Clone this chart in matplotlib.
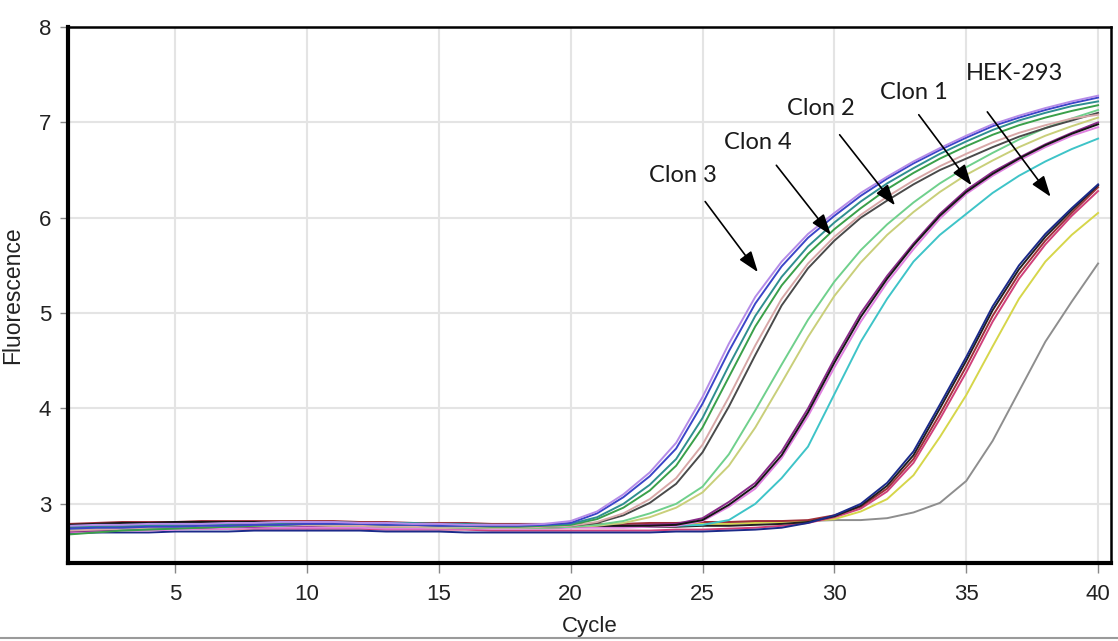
import matplotlib
matplotlib.use("Agg")
import matplotlib.pyplot as plt
from matplotlib.lines import Line2D

cycles = list(range(1, 41))

# Fluorescence per cycle (cycles 1..40) for each amplification curve
violet = [2.77,2.78,2.78,2.79,2.79,2.79,2.80,2.80,2.81,2.81,2.81,2.80,2.80,2.79,2.79,2.78,2.78,2.78,2.79,2.82,
          2.92,3.10,3.33,3.64,4.12,4.68,5.17,5.54,5.83,6.05,6.26,6.43,6.59,6.73,6.86,6.98,7.07,7.15,7.22,7.28]
blue = [2.74,2.75,2.75,2.76,2.76,2.77,2.77,2.78,2.78,2.79,2.79,2.79,2.78,2.78,2.77,2.77,2.77,2.77,2.78,2.80,
        2.90,3.07,3.29,3.58,4.05,4.60,5.10,5.49,5.79,6.02,6.23,6.41,6.57,6.71,6.84,6.96,7.05,7.13,7.20,7.26]
teal = [2.76,2.76,2.77,2.77,2.78,2.78,2.79,2.80,2.80,2.81,2.81,2.80,2.80,2.80,2.79,2.79,2.78,2.78,2.78,2.79,
        2.86,3.00,3.20,3.47,3.90,4.45,4.97,5.38,5.70,5.95,6.17,6.36,6.52,6.67,6.80,6.92,7.02,7.10,7.17,7.22]
green = [2.68,2.70,2.72,2.73,2.74,2.75,2.76,2.77,2.78,2.79,2.79,2.79,2.78,2.78,2.77,2.77,2.76,2.76,2.77,2.78,
         2.84,2.96,3.14,3.40,3.80,4.33,4.86,5.29,5.62,5.88,6.10,6.30,6.47,6.62,6.75,6.87,6.97,7.05,7.12,7.18]
pinktan = [2.72,2.73,2.74,2.75,2.76,2.76,2.77,2.77,2.78,2.78,2.78,2.77,2.77,2.76,2.76,2.76,2.75,2.75,2.76,2.77,
           2.81,2.90,3.05,3.27,3.62,4.12,4.66,5.15,5.52,5.80,6.03,6.22,6.39,6.54,6.67,6.79,6.89,6.97,7.04,7.08]
darkgray = [2.75,2.76,2.76,2.77,2.77,2.78,2.78,2.79,2.79,2.80,2.80,2.79,2.79,2.78,2.78,2.77,2.77,2.76,2.76,2.77,
            2.80,2.88,3.01,3.21,3.54,4.02,4.56,5.08,5.47,5.76,6.00,6.18,6.35,6.50,6.62,6.74,6.85,6.94,7.02,7.10]
lightgreen = [2.73,2.74,2.74,2.75,2.75,2.76,2.76,2.77,2.77,2.78,2.78,2.77,2.77,2.76,2.76,2.75,2.75,2.75,2.75,2.76,
              2.78,2.82,2.90,3.00,3.18,3.52,3.98,4.46,4.93,5.33,5.66,5.93,6.16,6.36,6.53,6.68,6.82,6.94,7.04,7.13]
yellowgreen = [2.74,2.75,2.75,2.76,2.76,2.76,2.77,2.77,2.78,2.78,2.77,2.77,2.76,2.76,2.75,2.75,2.75,2.75,2.75,2.76,
               2.77,2.80,2.86,2.96,3.12,3.40,3.80,4.27,4.75,5.18,5.53,5.82,6.06,6.27,6.45,6.60,6.74,6.86,6.96,7.05]
purple_c1 = [2.71,2.72,2.73,2.74,2.75,2.75,2.76,2.76,2.77,2.77,2.77,2.77,2.76,2.76,2.76,2.75,2.75,2.75,2.75,2.76,
             2.77,2.77,2.78,2.79,2.85,3.02,3.22,3.55,4.00,4.52,5.00,5.39,5.73,6.04,6.29,6.48,6.63,6.77,6.89,7.00]
black_c1 = [2.78,2.79,2.80,2.80,2.81,2.81,2.81,2.81,2.80,2.80,2.80,2.79,2.79,2.78,2.78,2.78,2.77,2.77,2.77,2.77,
            2.77,2.77,2.77,2.78,2.83,2.99,3.19,3.51,3.96,4.48,4.96,5.36,5.71,6.02,6.27,6.46,6.62,6.76,6.88,6.98]
magenta_c1 = [2.70,2.71,2.72,2.72,2.73,2.74,2.74,2.75,2.75,2.75,2.75,2.75,2.74,2.74,2.74,2.74,2.74,2.74,2.74,2.75,
              2.75,2.75,2.76,2.77,2.82,2.97,3.16,3.48,3.92,4.43,4.91,5.32,5.67,5.99,6.25,6.44,6.60,6.74,6.86,6.95]
cyan = [2.75,2.76,2.76,2.77,2.77,2.78,2.78,2.78,2.79,2.79,2.79,2.78,2.78,2.77,2.77,2.77,2.76,2.76,2.76,2.76,
        2.76,2.76,2.77,2.77,2.78,2.83,3.00,3.27,3.60,4.15,4.70,5.15,5.54,5.82,6.04,6.26,6.44,6.59,6.72,6.83]
navy_hek = [2.69,2.70,2.70,2.70,2.71,2.71,2.71,2.72,2.72,2.72,2.72,2.72,2.71,2.71,2.71,2.70,2.70,2.70,2.70,2.70,
            2.70,2.70,2.70,2.71,2.71,2.72,2.73,2.75,2.80,2.88,3.00,3.22,3.55,4.04,4.54,5.07,5.50,5.83,6.10,6.35]
darkred_hek = [2.79,2.80,2.81,2.81,2.81,2.82,2.82,2.82,2.82,2.82,2.82,2.81,2.81,2.80,2.80,2.80,2.79,2.79,2.79,2.79,
               2.79,2.79,2.80,2.80,2.81,2.81,2.82,2.82,2.83,2.88,2.97,3.16,3.47,3.94,4.44,4.97,5.41,5.76,6.05,6.32]
black_hek = [2.74,2.75,2.76,2.77,2.78,2.78,2.79,2.79,2.79,2.79,2.79,2.78,2.78,2.78,2.77,2.77,2.76,2.76,2.76,2.76,
             2.76,2.76,2.76,2.76,2.77,2.77,2.78,2.79,2.81,2.87,2.98,3.19,3.51,4.00,4.50,5.03,5.46,5.80,6.08,6.34]
magenta_hek = [2.72,2.72,2.73,2.73,2.74,2.74,2.74,2.74,2.74,2.74,2.74,2.74,2.73,2.73,2.73,2.73,2.72,2.72,2.72,2.72,
               2.72,2.72,2.72,2.73,2.73,2.74,2.75,2.77,2.80,2.86,2.95,3.13,3.43,3.89,4.38,4.91,5.36,5.72,6.02,6.28]
yellow_hek = [2.76,2.76,2.77,2.77,2.78,2.78,2.78,2.79,2.79,2.79,2.79,2.79,2.78,2.78,2.78,2.77,2.77,2.77,2.77,2.77,
              2.77,2.77,2.78,2.78,2.79,2.79,2.80,2.81,2.82,2.84,2.92,3.05,3.30,3.70,4.14,4.65,5.15,5.54,5.82,6.05]
gray_late = [2.73,2.74,2.75,2.76,2.77,2.78,2.79,2.80,2.80,2.81,2.81,2.80,2.80,2.80,2.79,2.79,2.78,2.78,2.78,2.78,
             2.78,2.79,2.79,2.80,2.80,2.81,2.81,2.82,2.82,2.83,2.83,2.85,2.91,3.01,3.24,3.66,4.18,4.70,5.12,5.52]

series = [
    (gray_late, '#8e8e8e'), (yellow_hek, '#d6d64a'), (magenta_hek, '#d0407a'),
    (darkred_hek, '#a0303a'), (black_hek, '#202020'), (navy_hek, '#1b2a8a'),
    (cyan, '#3ec4c8'), (magenta_c1, '#e080e0'), (purple_c1, '#8a2a8a'), (black_c1, '#151515'),
    (yellowgreen, '#c9cf7a'), (lightgreen, '#6fd08c'), (darkgray, '#4a4a4a'),
    (pinktan, '#d8a8a8'), (green, '#3aa04a'), (teal, '#2f8f8f'),
    (blue, '#3b45c8'), (violet, '#b58be8'),
]

labels = ['Clon 3', 'Clon 4', 'Clon 2', 'Clon 1', 'HEK-293']
label_xy = [(24.26, 6.44), (27.1, 6.79), (29.5, 7.15), (33.0, 7.31), (36.85, 7.51)]
arrow_start = [(25.1, 6.17), (27.8, 6.55), (30.2, 6.87), (33.2, 7.08), (35.8, 7.11)]
arrow_tip = [(27.1, 5.43), (29.87, 5.82), (32.3, 6.13), (35.2, 6.34), (38.2, 6.22)]

xticks = [5, 10, 15, 20, 25, 30, 35, 40]
yticks = [3, 4, 5, 6, 7, 8]

W, H = 1118, 641
fig = plt.figure(figsize=(W / 100, H / 100), dpi=100)
ax = fig.add_axes([68 / W, (H - 563) / H, (1111 - 68) / W, (563 - 27) / H])

for vals, col in series:
    ax.plot(cycles, vals, color=col, lw=1.4, zorder=3, solid_joinstyle='round')

ax.set_xlim(0.94, 40.49)
ax.set_ylim(2.38, 8.0)
ax.set_xticks(xticks)
ax.set_yticks(yticks)
ax.grid(True, color='#e4e4e4', lw=1.5, zorder=0)
ax.set_axisbelow(True)

for side in ['left', 'bottom']:
    ax.spines[side].set_linewidth(3.0)
for side in ['top', 'right']:
    ax.spines[side].set_linewidth(1.8)
for s in ax.spines.values():
    s.set_color('black')
    s.set_zorder(5)

ax.tick_params(axis='x', length=7, width=1, color='#888888', pad=8, labelsize=16)
ax.tick_params(axis='y', length=6, width=1, color='#888888', pad=6, labelsize=16)
for lab in ax.get_xticklabels() + ax.get_yticklabels():
    lab.set_family('Liberation Sans')
    lab.set_color('#222222')

ax.set_xlabel('Cycle', family='Liberation Sans', fontsize=16, color='#222222')
ax.set_ylabel('Fluorescence', family='Liberation Sans', fontsize=16.5, color='#222222')
ax.xaxis.set_label_coords(0.5, (563 - 616) / 536)
ax.yaxis.set_label_coords(-44 / 1043, 0.5)

for lab, (tx, ty), st, tp in zip(labels, label_xy, arrow_start, arrow_tip):
    ax.text(tx, ty, lab, ha='center', va='center', fontsize=17, family='Lato',
            color='#1a1a1a', zorder=6)
    ax.annotate('', xy=tp, xytext=st, zorder=6,
                arrowprops=dict(arrowstyle='-|>,head_length=0.85,head_width=0.3',
                                color='black', lw=1.2, mutation_scale=15,
                                shrinkA=0, shrinkB=0))

fig.add_artist(Line2D([0, 1], [(H - 638) / H] * 2, color='#9a9a9a', lw=1.5,
                      transform=fig.transFigure))

fig.savefig('out.png', dpi=100)
